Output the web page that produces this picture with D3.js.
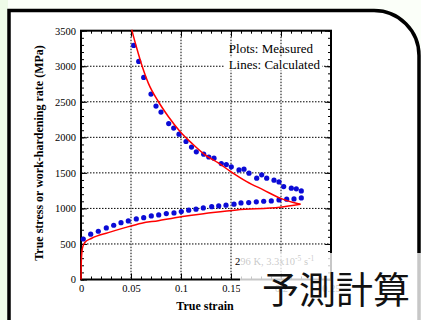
<!DOCTYPE html>
<html>
<head>
<meta charset="utf-8">
<script src="https://cdn.jsdelivr.net/npm/d3@7"></script>
<style>
  body { margin: 0; background: #ffffff; }
  svg { display: block; }
</style>
</head>
<body>
<script>
const w = 421;
const h = 320;

// measured: work-hardening rate (upper dots)
const whStrain = [0.0527, 0.0577, 0.0627, 0.070, 0.075, 0.080, 0.0877, 0.0927, 0.098, 0.105,
  0.1105, 0.1153, 0.1227, 0.1278, 0.133, 0.1403, 0.1453, 0.1503, 0.158, 0.163,
  0.168, 0.1757, 0.1807, 0.1857, 0.193, 0.198, 0.2027, 0.2103, 0.2153, 0.2203];
const whRate = [3293, 3068, 2842, 2608, 2439, 2355, 2194, 2130, 2045, 1941,
  1863, 1796, 1763, 1723, 1707, 1631, 1617, 1585, 1542, 1552,
  1496, 1425, 1472, 1425, 1397, 1373, 1307, 1285, 1275, 1246];

// measured: true stress (lower dots)
const ssStrain = [0.0023, 0.0097, 0.0173, 0.0253, 0.0327, 0.040, 0.0473, 0.0553, 0.0627, 0.0703,
  0.0777, 0.0853, 0.093, 0.1003, 0.1077, 0.115, 0.1223, 0.1307, 0.1377, 0.145,
  0.153, 0.160, 0.1677, 0.1753, 0.1827, 0.1903, 0.198, 0.2057, 0.213, 0.2203];
const ssStress = [570, 637, 679, 725, 763, 800, 824, 852, 870, 894,
  908, 927, 937, 955, 975, 989, 1007, 1025, 1035, 1045,
  1059, 1077, 1082, 1092, 1101, 1106, 1120, 1130, 1134, 1148];

// calculated curves (red)
const calcSsStrain = [0, 0.0003, 0.001, 0.002, 0.004, 0.0107, 0.0273, 0.044, 0.0607, 0.0773, 0.094, 0.1107, 0.124, 0.1557, 0.199, 0.2195];
const calcSsStress = [0, 250, 400, 470, 524, 580, 659, 730, 792, 828, 870, 904, 927, 979, 1017, 1058];
const calcWhStrain = [0.0507, 0.0557, 0.0607, 0.0673, 0.0773, 0.0873, 0.099, 0.1107, 0.124, 0.1373, 0.149, 0.1657, 0.1823, 0.199, 0.2123, 0.2195];
const calcWhRate = [3514, 3256, 3021, 2763, 2504, 2293, 2082, 1918, 1754, 1640, 1525, 1377, 1261, 1144, 1082, 1060];

const xTicks = [0, 0.05, 0.1, 0.15, 0.2, 0.25];
const xTickLabels = ["0", "0.05", "0.1", "0.15", "0.2", "0.25"];
const yTicks = [0, 500, 1000, 1500, 2000, 2500, 3000, 3500];

const svg = d3.select("body")
  .append("svg")
  .attr("width", w)
  .attr("height", h);

// page background + panel
svg.append("rect").attr("width", w).attr("height", h).attr("fill", "#fbfff9");
svg.append("rect").attr("width", 8).attr("height", h).attr("fill", "#eefbe8");
svg.append("path")
  .attr("d", "M9,330 V10.5 H374 A45,45 0 0 1 419,55.5 V330 Z")
  .attr("fill", "#ffffff")
  .attr("stroke", "#000")
  .attr("stroke-width", 3.5);

const pLeft = 81, pRight = 331, pTop = 30.7, pBottom = 279.5;
const x = d3.scaleLinear().domain([0, 0.25]).range([pLeft, pRight]);
const y = d3.scaleLinear().domain([0, 3500]).range([pBottom, pTop]);

const font = "'Liberation Serif', 'Times New Roman', serif";

// grid
const grid = svg.append("g").attr("stroke", "#000").attr("stroke-width", 1).attr("stroke-dasharray", "1.5,1.5");
grid.selectAll(".gx").data(xTicks.slice(1, -1)).join("line")
  .attr("x1", d => x(d)).attr("x2", d => x(d)).attr("y1", pTop).attr("y2", pBottom);
grid.selectAll(".gy").data(yTicks.slice(1, -1)).join("line")
  .attr("x1", pLeft).attr("x2", pRight).attr("y1", d => y(d)).attr("y2", d => y(d));

// axes
const xMinor = d3.range(0, 0.2501, 0.01);
const yMinor = d3.range(0, 3501, 100);
function styleAxis(g) {
  g.attr("font-family", font);
  g.select(".domain").remove();
  g.selectAll("line").attr("stroke", "#000").attr("stroke-width", 1);
  g.selectAll("text").attr("font-family", font).attr("font-size", 10.5).attr("fill", "#000");
}
svg.append("g").attr("transform", `translate(0,${pBottom})`)
  .call(d3.axisBottom(x).tickValues(xTicks).tickFormat((d, i) => xTickLabels[i]).tickSize(-6).tickPadding(5))
  .call(styleAxis);
svg.append("g").attr("transform", `translate(0,${pBottom})`)
  .call(d3.axisBottom(x).tickValues(xMinor).tickFormat("").tickSize(-3)).call(styleAxis);
svg.append("g").attr("transform", `translate(0,${pTop})`)
  .call(d3.axisTop(x).tickValues(xTicks).tickFormat("").tickSize(-6)).call(styleAxis);
svg.append("g").attr("transform", `translate(0,${pTop})`)
  .call(d3.axisTop(x).tickValues(xMinor).tickFormat("").tickSize(-3)).call(styleAxis);
svg.append("g").attr("transform", `translate(${pLeft},0)`)
  .call(d3.axisLeft(y).tickValues(yTicks).tickFormat(d3.format("d")).tickSize(-6).tickPadding(5))
  .call(styleAxis);
svg.append("g").attr("transform", `translate(${pLeft},0)`)
  .call(d3.axisLeft(y).tickValues(yMinor).tickFormat("").tickSize(-3)).call(styleAxis);
svg.append("g").attr("transform", `translate(${pRight},0)`)
  .call(d3.axisRight(y).tickValues(yTicks).tickFormat("").tickSize(-6)).call(styleAxis);
svg.append("g").attr("transform", `translate(${pRight},0)`)
  .call(d3.axisRight(y).tickValues(yMinor).tickFormat("").tickSize(-3)).call(styleAxis);

svg.append("rect")
  .attr("x", pLeft).attr("y", pTop)
  .attr("width", pRight - pLeft).attr("height", pBottom - pTop)
  .attr("fill", "none").attr("stroke", "#000").attr("stroke-width", 2);

// measured points
const blue = "#0b0bd6";
svg.append("g").selectAll("circle").data(whStrain).join("circle")
  .attr("cx", d => x(d)).attr("cy", (d, i) => y(whRate[i])).attr("r", 2.6).attr("fill", blue);
svg.append("g").selectAll("circle").data(ssStrain).join("circle")
  .attr("cx", d => x(d)).attr("cy", (d, i) => y(ssStress[i])).attr("r", 2.6).attr("fill", blue);

// calculated lines
const line = d3.line().x(d => x(d[0])).y(d => y(d[1])).curve(d3.curveMonotoneX);
svg.append("path")
  .datum(calcSsStrain.map((d, i) => [d, calcSsStress[i]]))
  .attr("d", line).attr("fill", "none").attr("stroke", "#ff0000").attr("stroke-width", 1.5);
svg.append("path")
  .datum(calcWhStrain.map((d, i) => [d, calcWhRate[i]]))
  .attr("d", line).attr("fill", "none").attr("stroke", "#ff0000").attr("stroke-width", 1.5);

// legend
svg.append("rect").attr("x", 225).attr("y", 57.5).attr("width", 97).attr("height", 13).attr("fill", "#fff");
svg.append("text").attr("x", 313).attr("y", 53).attr("text-anchor", "end")
  .attr("font-family", font).attr("font-size", 13).text("Plots: Measured");
svg.append("text").attr("x", 320).attr("y", 68.5).attr("text-anchor", "end")
  .attr("font-family", font).attr("font-size", 13).text("Lines: Calculated");

// condition label
const cond = svg.append("text").attr("x", 235).attr("y", 265)
  .attr("font-family", font).attr("font-size", 10.5);
cond.append("tspan").text("296 K, 3.3x10");
cond.append("tspan").attr("dy", -4).attr("font-size", 7.5).text("-5");
cond.append("tspan").attr("dy", 4).text(" s");
cond.append("tspan").attr("dy", -4).attr("font-size", 7.5).text("-1");

// axis titles
svg.append("text").attr("x", 205).attr("y", 310).attr("text-anchor", "middle")
  .attr("font-family", font).attr("font-size", 12).attr("font-weight", "bold").text("True strain");
svg.append("text").attr("transform", "translate(42.5,153) rotate(-90)").attr("text-anchor", "middle")
  .attr("font-family", font).attr("font-size", 12).attr("font-weight", "bold")
  .text("True stress or work-hardening rate (MPa)");

// overlay caption
svg.append("rect").attr("x", 240).attr("y", 253).attr("width", w - 240).attr("height", h - 253)
  .attr("fill", "#fff").attr("opacity", 0.78);
svg.append("text").attr("x", 262).attr("y", 304)
  .attr("font-family", "'Noto Sans CJK JP', sans-serif").attr("font-size", 37).attr("fill", "#111")
  .text("予測計算");
</script>
</body>
</html>
